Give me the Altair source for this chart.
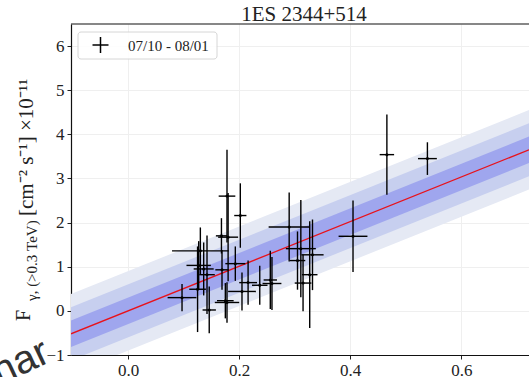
import altair as alt
import pandas as pd

# ---- flux points -------------------------------------------------------
x_val = [0.097, 0.130, 0.127, 0.136, 0.142, 0.125, 0.146, 0.169, 0.193, 0.178,
         0.175, 0.202, 0.205, 0.216, 0.237, 0.256, 0.259, 0.178, 0.168, 0.180,
         0.290, 0.305, 0.311, 0.327, 0.332, 0.315, 0.405, 0.466, 0.539]
x_err = [0.026, 0.051, 0.022, 0.018, 0.014, 0.015, 0.012, 0.012, 0.018, 0.022,
         0.015, 0.011, 0.025, 0.016, 0.014, 0.012, 0.017, 0.015, 0.010, 0.018,
         0.037, 0.014, 0.027, 0.014, 0.020, 0.015, 0.026, 0.013, 0.017]
flux = [0.30, 1.36, 1.03, 0.95, 0.82, 0.49, 0.02, 0.93, 1.07, 0.19,
        0.23, 2.16, 0.44, 0.64, 0.58, 0.70, 0.62, 2.60, 1.70, 1.67,
        1.90, 1.14, 1.41, 0.82, 1.27, 0.63, 1.69, 3.54, 3.45]
flux_err = [0.31, 0.53, 0.55, 0.60, 0.89, 0.97, 0.53, 0.45, 0.39, 0.46,
            0.40, 0.73, 0.43, 0.50, 0.44, 0.66, 0.60, 1.05, 0.40, 1.00,
            0.78, 0.66, 1.10, 1.21, 0.80, 0.64, 0.81, 0.91, 0.37]

# ---- linear fit and its 1/2/3 sigma bands ---------------------------------
fit_x = [-0.103, 0.722]
fit_y = [-0.52, 3.65]
band_half = [0.30, 0.60, 0.90]
band_colors = ["#9fa6ee", "#c7cfef", "#e5e9f4"]

X_DOMAIN = [-0.103, 0.722]
Y_DOMAIN = [-1.0, 6.5]
W, H = 458, 331
SERIF = "Liberation Serif"

pts = pd.DataFrame({"x": x_val, "xe": x_err, "y": flux, "ye": flux_err})
pts["x_lo"] = pts.x - pts.xe
pts["x_hi"] = pts.x + pts.xe
pts["y_lo"] = pts.y - pts.ye
pts["y_hi"] = pts.y + pts.ye

fit = pd.DataFrame({"x": fit_x, "y": fit_y})

xscale = alt.Scale(domain=X_DOMAIN, nice=False, zero=False)
yscale = alt.Scale(domain=Y_DOMAIN, nice=False, zero=False)

x_axis = alt.Axis(values=[0.0, 0.2, 0.4, 0.6], format=".1f",
                  labelFont=SERIF, labelFontSize=17, labelColor="#222222",
                  tickColor="#222222", tickSize=4, domainColor="#111111",
                  domainWidth=1.2, gridColor="#efefef", labelPadding=3)
y_axis = alt.Axis(values=[-1, 0, 1, 2, 3, 4, 5, 6], format="d",
                  labelFont=SERIF, labelFontSize=17, labelColor="#222222",
                  tickColor="#222222", tickSize=4, domainColor="#111111",
                  domainWidth=1.2, gridColor="#efefef", labelPadding=3)

X = lambda f: alt.X(f, type="quantitative", scale=xscale, axis=x_axis, title=None)
Y = lambda f: alt.Y(f, type="quantitative", scale=yscale, axis=y_axis, title=None)

# bands, widest first
bands = []
for half, col in sorted(zip(band_half, band_colors), reverse=True):
    d = fit.assign(lo=fit.y - half, hi=fit.y + half)
    bands.append(
        alt.Chart(d).mark_area(color=col, opacity=1, clip=True).encode(
            x=X("x"), y=Y("lo"), y2="hi")
    )

line = alt.Chart(fit).mark_line(color="#e8121b", strokeWidth=1.3, clip=True).encode(
    x=X("x"), y=Y("y"))

xbars = alt.Chart(pts).mark_rule(color="black", strokeWidth=1.4).encode(
    x=X("x_lo"), x2="x_hi", y=Y("y"))
ybars = alt.Chart(pts).mark_rule(color="black", strokeWidth=1.4).encode(
    x=X("x"), y=Y("y_lo"), y2="y_hi")
dots = alt.Chart(pts).mark_circle(color="black", size=9, opacity=1).encode(
    x=X("x"), y=Y("y"))

one = pd.DataFrame({"a": [0]})

# frame line along the top of the plot
top_spine = alt.Chart(one).mark_rule(color="#111111", strokeWidth=1.2).encode(
    x=alt.value(0), x2=alt.value(W + 5), y=alt.value(0))

# legend
leg_box = alt.Chart(one).mark_rect(fill="white", stroke="#d2d2d2", strokeWidth=1,
                                   cornerRadius=3, opacity=0.9).encode(
    x=alt.value(7), x2=alt.value(146), y=alt.value(8), y2=alt.value(35))
leg_h = alt.Chart(one).mark_rule(color="black", strokeWidth=1.5).encode(
    x=alt.value(21.5), x2=alt.value(37.5), y=alt.value(21))
leg_v = alt.Chart(one).mark_rule(color="black", strokeWidth=1.5).encode(
    x=alt.value(29.5), y=alt.value(13), y2=alt.value(29))
leg_txt = alt.Chart(pd.DataFrame({"t": ["07/10 - 08/01"]})).mark_text(
    font=SERIF, fontSize=15, align="left", baseline="middle", color="#222222").encode(
    x=alt.value(57), y=alt.value(21.5), text="t")

# title
title = alt.Chart(pd.DataFrame({"t": ["1ES 2344+514"]})).mark_text(
    font=SERIF, fontSize=21, align="center", baseline="alphabetic", color="#222222").encode(
    x=alt.value(233), y=alt.value(-3), text="t")

# y-axis label, built from main text and subscript
ylab_F = alt.Chart(pd.DataFrame({"t": ["F"]})).mark_text(
    font=SERIF, fontSize=20, angle=270, align="left", baseline="alphabetic",
    color="#222222").encode(x=alt.value(-41), y=alt.value(297), text="t")
ylab_sub = alt.Chart(pd.DataFrame({"t": ["γ, (>0.3 TeV)"]})).mark_text(
    font=SERIF, fontSize=15, angle=270, align="left", baseline="alphabetic",
    color="#222222").encode(x=alt.value(-34), y=alt.value(277), text="t")
ylab_main = alt.Chart(pd.DataFrame({"t": ["[cm⁻² s⁻¹] ×10⁻¹¹"]})).mark_text(
    font=SERIF, fontSize=21, angle=270, align="left", baseline="alphabetic",
    color="#222222").encode(x=alt.value(-38), y=alt.value(192), text="t")

# overlay lettering in the lower-left corner: white halo under dark glyphs
stamp_df = pd.DataFrame({"t": ["nar"]})
stamp_halo = alt.Chart(stamp_df).mark_text(
    font="Liberation Sans", fontSize=40, angle=335, align="right", baseline="alphabetic",
    color="white", stroke="white", strokeWidth=5).encode(
    x=alt.value(-19), y=alt.value(337), text="t")
stamp = alt.Chart(stamp_df).mark_text(
    font="Liberation Sans", fontSize=40, angle=335, align="right", baseline="alphabetic",
    color="#333333").encode(
    x=alt.value(-19), y=alt.value(337), text="t")

chart = alt.layer(
    *bands, line, xbars, ybars, dots, top_spine,
    leg_box, leg_h, leg_v, leg_txt, title, ylab_F, ylab_sub, ylab_main,
    stamp_halo, stamp
).properties(
    width=W, height=H,
    autosize=alt.AutoSizeParams(type="none"),
    padding={"left": 71, "top": 24, "right": 0, "bottom": 22},
    background="white",
).configure_view(stroke=None)

chart.save("out.html", embed_options={"renderer": "svg", "actions": False})
